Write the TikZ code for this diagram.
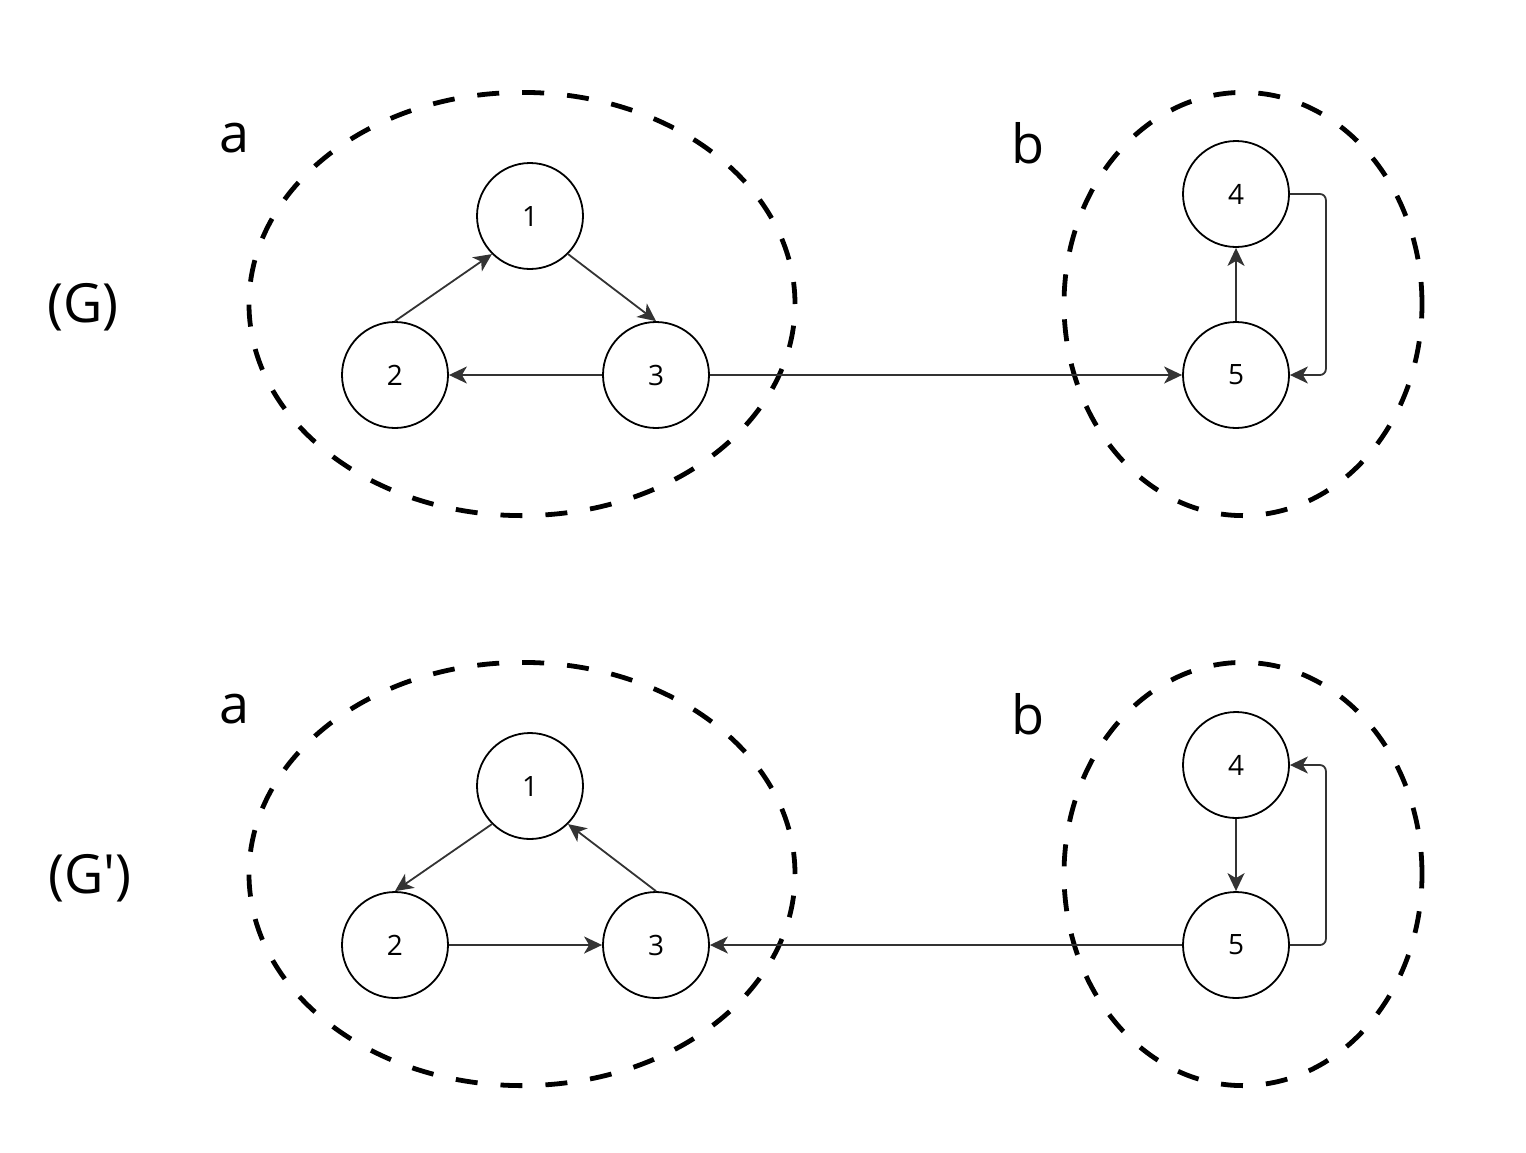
\documentclass[tikz,border=0pt]{standalone}
\usepackage{fontspec}
\setmainfont{Open Sans}
\usetikzlibrary{arrows.meta}
\definecolor{edgegray}{HTML}{333333}
\begin{document}
\begin{tikzpicture}[x=0.5pt, y=-0.5pt,
	vertex/.style={draw, circle, line width=0.9pt, minimum size=53pt, inner sep=0pt, font=\fontsize{14pt}{16pt}\selectfont},
	group/.style={draw, line width=2.4pt, dash pattern=on 11pt off 11.5pt},
	edge/.style={edgegray, line width=0.9pt, -{Stealth[length=9pt, width=8.5pt, inset=2.5pt]}},
	biglabel/.style={font=\fontsize{27pt}{32pt}\selectfont}]
	\useasboundingbox (0,0) rectangle (1526,1152);
	
	% (G)
	\node[biglabel] (G) at (83,307) {(G)};
	\draw[group] (522,304) ellipse [x radius=136.5pt, y radius=105.8pt];
	\draw[group] (1243,304) ellipse [x radius=89.5pt, y radius=105.8pt];
	\node[biglabel] (la) at (235,138) {a};
	\node[biglabel] (lb) at (1028,143) {b};
	
	\node[vertex] (v1) at (530,216) {1};
	\node[vertex] (v2) at (395,375) {2};
	\node[vertex] (v3) at (656,375) {3};
	\node[vertex] (v4) at (1236,194) {4};
	\node[vertex] (v5) at (1236,375) {5};
	
	\draw[edge] (v2.north) -- (v1.225);
	\draw[edge] (v1.-45) -- (v3.north);
	\draw[edge] (v3.west) -- (v2.east);
	\draw[edge] (v3.east) -- (v5.west);
	\draw[edge] (v5.north) -- (v4.south);
	\draw[edge, rounded corners=3pt] (v4.east) -- ++(36,0) |- (v5.east);
	
	% (G')
	\node[biglabel] (Gp) at (90,878) {(G\textquotesingle)};
	\draw[group] (522,874) ellipse [x radius=136.5pt, y radius=105.8pt];
	\draw[group] (1243,874) ellipse [x radius=89.5pt, y radius=105.8pt];
	\node[biglabel] (lap) at (235,709) {a};
	\node[biglabel] (lbp) at (1028,714) {b};
	
	\node[vertex] (w1) at (530,786) {1};
	\node[vertex] (w2) at (395,945) {2};
	\node[vertex] (w3) at (656,945) {3};
	\node[vertex] (w4) at (1236,765) {4};
	\node[vertex] (w5) at (1236,945) {5};
	
	\draw[edge] (w1.225) -- (w2.north);
	\draw[edge] (w3.north) -- (w1.-45);
	\draw[edge] (w2.east) -- (w3.west);
	\draw[edge] (w5.west) -- (w3.east);
	\draw[edge] (w4.south) -- (w5.north);
	\draw[edge, rounded corners=3pt] (w5.east) -- ++(36,0) |- (w4.east);
\end{tikzpicture}
\end{document}
